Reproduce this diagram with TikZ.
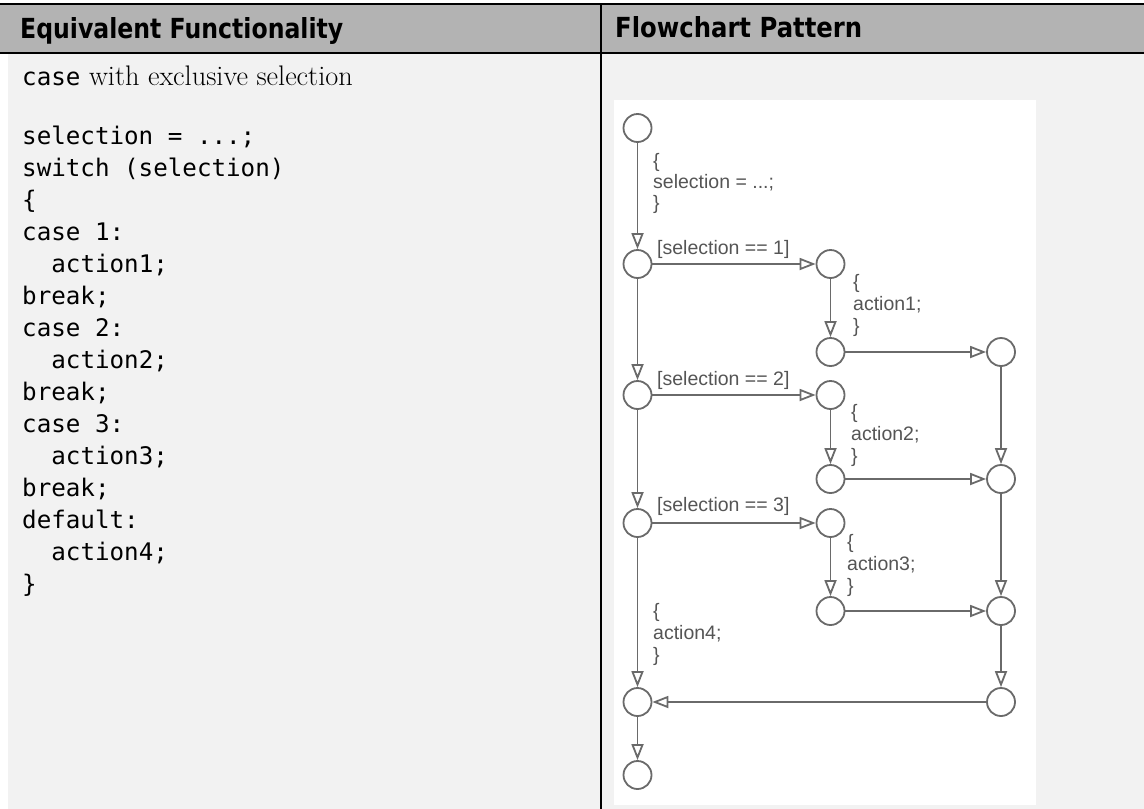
\documentclass[tikz,border=0pt]{standalone}
\usepackage{fontspec}
\usepackage{graphicx}
\usetikzlibrary{arrows.meta}
\newfontfamily\codefont{DejaVu Sans Mono}
\newfontfamily\lblfont{Liberation Sans}
\newfontfamily\hdrfont{DejaVu Sans}
\definecolor{hdrgray}{HTML}{B3B3B3}
\definecolor{bodygray}{HTML}{F2F2F2}
\definecolor{fcline}{HTML}{6A6A6A}
\definecolor{fctext}{HTML}{555555}
\begin{document}
\begin{tikzpicture}[x=1pt,y=-1pt,
  st/.style={circle,draw=fcline,fill=white,line width=1.8pt,minimum size=28pt,inner sep=0pt},
  flow/.style={draw=fcline,line width=1.8pt,-{Triangle[open,length=16pt,width=12pt]}},
  lbl/.style={font=\lblfont\fontsize{19.5}{22}\selectfont,text=fctext,inner sep=0pt,anchor=base west},
  code/.style={font=\codefont\fontsize{24.2}{30}\selectfont,inner sep=0pt,anchor=base west},
  hdr/.style={inner sep=0pt,anchor=base west}]
\useasboundingbox (0,0) rectangle (1144,809);
% backgrounds
\fill[white] (0,0) rectangle (1144,809);
\fill[hdrgray] (0,5) rectangle (1144,52);
\fill[bodygray] (8,54) rectangle (1144,809);
\fill[white] (614,100) rectangle (1036,805);
\draw[black,line width=2pt] (0,4) -- (1144,4);
\draw[black,line width=2.5pt] (0,53.2) -- (1144,53.2);
\draw[black,line width=1.5pt] (601,5) -- (601,52);
\draw[black,line width=2.6pt] (601,54) -- (601,809);
% headers
\node[hdr] (h1) at (20,38) {\resizebox{323pt}{21pt}{\hdrfont\bfseries Equivalent Functionality}};
\node[hdr] (h2) at (615,37.5) {\resizebox{247pt}{21pt}{\hdrfont\bfseries Flowchart Pattern}};
% left column text
\node[hdr,font=\fontsize{28.3}{32}\selectfont] (title) at (22,85) {{\codefont\fontsize{24.2}{30}\selectfont case} with exclusive selection};
\node[code] (l0) at (22,144) {selection = ...;};
\node[code] (l1) at (22,176) {switch (selection)};
\node[code] (l2) at (22,208) {\{};
\node[code] (l3) at (22,240) {case 1:};
\node[code] (l4) at (51.2,272) {action1;};
\node[code] (l5) at (22,304) {break;};
\node[code] (l6) at (22,336) {case 2:};
\node[code] (l7) at (51.2,368) {action2;};
\node[code] (l8) at (22,400) {break;};
\node[code] (l9) at (22,432) {case 3:};
\node[code] (l10) at (51.2,464) {action3;};
\node[code] (l11) at (22,496) {break;};
\node[code] (l12) at (22,528) {default:};
\node[code] (l13) at (51.2,560) {action4;};
\node[code] (l14) at (22,592) {\}};
% flowchart circles
\node[st] (s0) at (637.5,128) {};
\node[st] (c1) at (637.5,264) {};
\node[st] (c2) at (637.5,395) {};
\node[st] (c3) at (637.5,523) {};
\node[st] (mg) at (637.5,702) {};
\node[st] (en) at (637.5,775) {};
\node[st] (m1a) at (830.5,264) {};
\node[st] (m1b) at (830.5,352) {};
\node[st] (m2a) at (830.5,395) {};
\node[st] (m2b) at (830.5,479) {};
\node[st] (m3a) at (830.5,523) {};
\node[st] (m3b) at (830.5,611) {};
\node[st] (r1) at (1001,352) {};
\node[st] (r2) at (1001,479) {};
\node[st] (r3) at (1001,611) {};
\node[st] (r4) at (1001,702) {};
% connectors
\draw[flow] (s0) -- (c1);
\draw[flow] (c1) -- (c2);
\draw[flow] (c2) -- (c3);
\draw[flow] (c3) -- (mg);
\draw[flow] (mg) -- (en);
\draw[flow] (c1) -- (m1a);
\draw[flow] (c2) -- (m2a);
\draw[flow] (c3) -- (m3a);
\draw[flow] (m1a) -- (m1b);
\draw[flow] (m2a) -- (m2b);
\draw[flow] (m3a) -- (m3b);
\draw[flow] (m1b) -- (r1);
\draw[flow] (m2b) -- (r2);
\draw[flow] (m3b) -- (r3);
\draw[flow] (r1) -- (r2);
\draw[flow] (r2) -- (r3);
\draw[flow] (r3) -- (r4);
\draw[flow] (r4) -- (mg);
% flowchart labels
\node[lbl] (t0a) at (653,167) {\{};
\node[lbl] (t0b) at (653,188) {selection = ...;};
\node[lbl] (t0c) at (653,209) {\}};
\node[lbl] (g1) at (657,254) {[selection == 1]};
\node[lbl] (g2) at (657,385) {[selection == 2]};
\node[lbl] (g3) at (657,511) {[selection == 3]};
\node[lbl] (t1a) at (853,288) {\{};
\node[lbl] (t1b) at (853,310) {action1;};
\node[lbl] (t1c) at (853,332) {\}};
\node[lbl] (t2a) at (851,418) {\{};
\node[lbl] (t2b) at (851,440) {action2;};
\node[lbl] (t2c) at (851,462) {\}};
\node[lbl] (t3a) at (847,548) {\{};
\node[lbl] (t3b) at (847,570) {action3;};
\node[lbl] (t3c) at (847,592) {\}};
\node[lbl] (t4a) at (653,617) {\{};
\node[lbl] (t4b) at (653,639) {action4;};
\node[lbl] (t4c) at (653,661) {\}};
\end{tikzpicture}
\end{document}
